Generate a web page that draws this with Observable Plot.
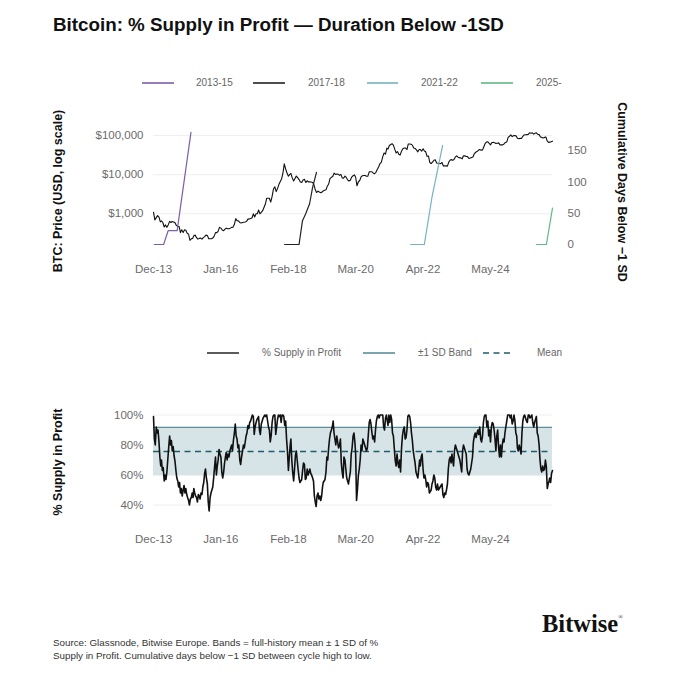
<!DOCTYPE html>
<html>
<head>
<meta charset="utf-8">
<script src="https://cdn.jsdelivr.net/npm/d3@7"></script>
<script src="https://cdn.jsdelivr.net/npm/@observablehq/plot@0.6"></script>
<style>
  body { margin: 0; background: #fff; }
  #root { position: relative; width: 680px; height: 680px; overflow: hidden; background: #fff;
          font-family: "Liberation Sans", Arial, sans-serif; }
  .abs { position: absolute; white-space: nowrap; }
  .chart { position: absolute; left: 0; }
</style>
</head>
<body>
<div id="root"></div>
<script>
// ---------------- DATA ----------------
// BTC price (USD), two readings per month (1st, 16th) from Dec 2013
const priceUSD = [
  1100, 700,   800, 900,   820, 620,   660, 600,   460, 520,   450, 520,
  640, 600,    635, 620,   590, 500,   480, 470,   330, 390,   330, 390,   380, 320,
  300, 210,    230, 235,   275, 285,   245, 225,   235, 240,   225, 245,
  260, 285,    280, 230,   230, 230,   240, 265,   330, 330,   360, 450,
  430, 385,    370, 405,   430, 415,   415, 430,   450, 455,   540, 750,
  670, 660,    600, 580,   600, 610,   615, 640,   730, 740,   760, 780,
  1000, 830,   1000, 1010, 1250, 1000, 1090, 1200, 1450, 1750, 2500, 2500,
  2500, 2000,  2800, 4300, 4900, 3700, 4400, 5600, 6700, 7800, 10900, 19000,
  14000, 11000, 9100, 10200, 10800, 8300, 6900, 8000, 9200, 8400, 7500, 6500,
  6300, 7300,  7600, 6300, 7000, 6500, 6600, 6500, 6350, 5600, 4100, 3500,
  3800, 3600,  3450, 3600, 3850, 4000, 4100, 5100, 5700, 7900, 8600, 9000,
  11000, 10200, 10400, 10300, 9600, 10200, 8300, 8100, 9200, 8500, 7400, 6900,
  7200, 8700,  9400, 9900, 8600, 5200, 6600, 7100, 8800, 9400, 9500, 9500,
  9100, 9100,  11800, 11900, 11900, 10900, 10600, 11500, 13800, 16000, 19300, 21000,
  29000, 36000, 33500, 48000, 45000, 56000, 59000, 62000, 57000, 45000, 36000, 39000,
  33500, 31800, 40000, 46000, 48000, 48000, 44000, 61000, 61000, 60000, 57000, 48000,
  47000, 43000, 38500, 44000, 44000, 40000, 46000, 40500, 38500, 29500, 30000, 20500,
  19300, 21000, 23300, 24000, 20000, 19700, 19400, 19200, 20500, 16700, 17000, 16800,
  16600, 21000, 23700, 24300, 23300, 24400, 28500, 30300, 28000, 27000, 27000, 25500,
  30600, 30300, 29200, 29000, 25900, 26600, 27600, 28500, 34800, 37500, 39000, 42000,
  44000, 42500, 43000, 52000, 62000, 68000, 69700, 63000, 58000, 66000, 67700, 66000,
  62700, 64000, 65000, 58000, 58000, 58000, 61000, 67000, 69000, 90000, 96000, 104000,
  94000, 100000, 100000, 97000, 86000, 83000, 85000, 84000, 96000, 104000, 105000, 106000,
  107000, 118000, 115000, 118000, 109000, 115000, 118000, 108000, 106000, 92000, 90000, 87000,
  90000, 92000, 72000, 67000, 68000, 70000,
  72000
];

// % Supply in Profit, three readings per month (1st, 11th, 21st) from Dec 2013
const supplyPct = [
  99, 84, 80,
  92, 88, 90,  82, 72, 66,  70, 63, 65,  56, 60, 57,  62, 70, 78,  86, 80, 83,
  76, 79, 73,  69, 63, 58,  56, 52, 55,  48, 51, 46,  50, 53, 48,  51, 47, 45,
  43, 40, 44,  45, 48, 45,  51, 48, 46,  45, 42, 47,  46, 44, 48,  47, 52, 55,
  61, 64, 58,  54, 42, 36,  45, 48, 50,  52, 58, 65,  72, 60, 66,  70, 77, 74,
  72, 62, 58,  62, 68, 72,  75, 70, 74,  72, 76, 78,  80, 76, 83,  88, 94, 86,
  84, 78, 80,  70, 67, 72,  76, 80, 78,  82, 86, 88,  93, 91, 95,  96, 98, 100,
  99, 87, 92,  95, 97, 98,  99, 90, 87,  94, 96, 98,  99, 100, 99, 100, 96, 92,
  90, 82, 86,  95, 99, 100, 100, 87, 92, 97, 100, 99, 100, 95, 100, 100, 99, 93,
  96, 84, 76,  63, 72, 80,  84, 70, 62,  56, 64, 73,  76, 70, 64,  58, 55, 56,
  57, 63, 68,  67, 57, 58,  64, 60, 62,  64, 61, 60,  58, 56, 46,  42, 39, 46,
  48, 44, 46,  43, 46, 52,  55, 56, 57,  62, 72, 70,  78, 84, 88,  90, 92, 96,
  88, 84, 80,  86, 82, 78,  80, 84, 68,  62, 58, 72,  70, 64, 58,  56, 54, 58,
  62, 74, 78,  86, 88, 82,  74, 43, 50,  60, 64, 70,  80, 76, 84,  82, 80, 78,
  76, 78, 86,  95, 97, 94,  88, 84, 86,  82, 90, 96,  99, 100, 98, 100, 100, 100,
  100, 92, 90, 98, 100, 96, 93, 100, 95, 100, 97, 88, 86, 78, 70,  66, 74, 68,
  65, 70, 62,  78, 86, 90,  92, 84, 85,  90, 99, 100, 99, 95, 88,  83, 76, 72,
  68, 62, 60,  58, 64, 70,  66, 72, 74,  64, 58, 60,  57, 52, 55,  54, 48, 49,
  50, 54, 56,  60, 58, 52,  50, 54, 50,  51, 52, 53,  54, 47, 45,  48, 47, 50,
  54, 64, 70,  72, 68, 74,  70, 66, 76,  80, 78, 76,  74, 72, 70,  66, 62, 76,
  80, 78, 76,  74, 64, 61,  60, 62, 64,  68, 72, 82,  86, 88, 85,  88, 90, 87,
  92, 84, 82,  86, 95, 99,  100, 100, 92, 96, 86, 90, 82, 92, 95,  94, 90, 84,
  76, 86, 90,  78, 72, 80,  72, 80, 84,  82, 88, 92,  96, 100, 100, 100, 98, 100,
  94, 96, 100, 96, 88, 86,  78, 76, 80,  77, 74, 88,  96, 99, 100, 98, 96, 95,
  100, 100, 98, 99, 100, 95, 92, 95, 97, 99, 88, 86,  80, 70, 64,  62, 66, 63,
  64, 70, 66,  51, 54, 56,  58, 55, 61,
  63
];

// Band statistics (full-history mean and ±1 SD)
const bandMean = 75.6;
const bandLower = 59.5;
const bandUpper = 91.7;

// Cumulative days below −1 SD, by cycle
const cycleLabels = ["2013-15", "2017-18", "2021-22", "2025-"];
const cycle2013Dates = ["2013-12-10", "2014-03-25", "2014-05-15", "2014-08-25", "2015-01-28"];
const cycle2013Days  = [0, 0, 22, 22, 179];
const cycle2017Dates = ["2017-12-20", "2018-06-01", "2018-07-10", "2018-08-15", "2018-09-28", "2018-11-01", "2018-12-15"];
const cycle2017Days  = [0, 0, 38, 49, 65, 91, 115];
const cycle2021Dates = ["2021-11-12", "2022-04-15", "2022-07-10", "2022-11-08"];
const cycle2021Days  = [0, 0, 75, 158];
const cycle2025Dates = ["2025-10-01", "2026-01-22", "2026-04-01"];
const cycle2025Days  = [0, 0, 58];

// Axis ticks
const xTickDates = ["2013-12-01", "2016-01-01", "2018-02-01", "2020-03-01", "2022-04-01", "2024-05-01"];
const priceTicks = [1000, 10000, 100000];
const daysTicks = [0, 50, 100, 150];
const pctTicks = [40, 60, 80, 100];

// ---------------- STYLE ----------------
const cycleColors = ["#7a5fa8", "#222222", "#74b3bf", "#5dba86"];
const FONT = '"Liberation Sans", Arial, sans-serif';
const TICK_COLOR = "#6b6b6b";

// ---------------- BUILD ----------------
const priceData = priceUSD.map((v, i) => ({
  date: new Date(Date.UTC(2013, 11 + Math.floor(i / 2), i % 2 ? 16 : 1)), price: v }));
const supplyData = supplyPct.map((v, i) => ({
  date: new Date(Date.UTC(2013, 11 + Math.floor(i / 3), [1, 11, 21][i % 3])), pct: v }));
const toDate = s => new Date(s + "T00:00:00Z");
const cycles = [
  [cycle2013Dates, cycle2013Days], [cycle2017Dates, cycle2017Days],
  [cycle2021Dates, cycle2021Days], [cycle2025Dates, cycle2025Days]
].map(([ds, vs], k) => ({
  color: cycleColors[k],
  data: ds.map((d, i) => ({ date: toDate(d), days: vs[i] }))
}));
const xDomain = [toDate("2013-12-01"), toDate("2026-04-01")];
const xTicks = xTickDates.map(toDate);
const fmtX = d3.utcFormat("%b-%y");

const root = document.getElementById("root");
const common = { width: 680, marginLeft: 153, marginRight: 128 };
const baseStyle = { fontFamily: FONT, fontSize: "11.5px", color: TICK_COLOR, background: "transparent", overflow: "visible" };

const topPrice = Plot.plot({
  ...common, height: 180, marginTop: 28, marginBottom: 32,
  style: baseStyle,
  x: { type: "utc", domain: xDomain },
  y: { type: "log", domain: [129.6, 151900] },
  marks: [
    Plot.ruleY(priceTicks, { stroke: "#eeeeee" }),
    Plot.axisY(priceTicks, { tickSize: 0, tickPadding: 10, label: null, tickFormat: d => "$" + d3.format(",")(d) }),
    Plot.axisX(xTicks, { tickSize: 0, tickPadding: 16, label: null, tickFormat: fmtX }),
    Plot.lineY(priceData, { x: "date", y: "price", stroke: "#111", strokeWidth: 1.1 })
  ]
});

const topDays = Plot.plot({
  ...common, height: 180, marginTop: 28, marginBottom: 32,
  style: baseStyle,
  x: { type: "utc", domain: xDomain, axis: null },
  y: { domain: [-6.4, 185.1] },
  marks: [
    Plot.axisY(daysTicks, { anchor: "right", tickSize: 0, tickPadding: 15, label: null }),
    ...cycles.map(c => Plot.line(c.data, { x: "date", y: "days", stroke: c.color, strokeWidth: 1.2 }))
  ]
});

const bottom = Plot.plot({
  ...common, height: 170, marginTop: 30, marginBottom: 35,
  style: baseStyle,
  x: { type: "utc", domain: xDomain },
  y: { domain: [33, 103] },
  marks: [
    Plot.ruleY(pctTicks, { stroke: "#eeeeee" }),
    Plot.rect([{ x1: xDomain[0], x2: xDomain[1], y1: bandLower, y2: bandUpper }],
      { x1: "x1", x2: "x2", y1: "y1", y2: "y2", fill: "#d6e4e7" }),
    Plot.ruleY([bandUpper], { stroke: "#5b8e98", strokeWidth: 1.3 }),
    Plot.ruleY([bandMean], { stroke: "#1f5c6a", strokeWidth: 1.5, strokeDasharray: "6,4.5" }),
    Plot.lineY(supplyData, { x: "date", y: "pct", stroke: "#111", strokeWidth: 1.6 }),
    Plot.axisY(pctTicks, { tickSize: 0, tickPadding: 10, label: null, tickFormat: d => d + "%" }),
    Plot.axisX(xTicks, { tickSize: 0, tickPadding: 19, label: null, tickFormat: fmtX })
  ]
});

[[topPrice, 100], [topDays, 100], [bottom, 380]].forEach(([svg, top]) => {
  svg.classList.add("chart");
  svg.style.top = top + "px";
  root.appendChild(svg);
});

// ---------------- TEXT & LEGENDS ----------------
function text(str, x, cy, css, anchor) {
  const d = document.createElement("div");
  d.className = "abs";
  d.textContent = str;
  d.style.left = x + "px";
  d.style.top = cy + "px";
  d.style.lineHeight = "1";
  d.style.transform = anchor || "translateY(-50%)";
  Object.assign(d.style, css);
  root.appendChild(d);
  return d;
}
function swatch(x1, x2, y, color, dash, w) {
  const ns = "http://www.w3.org/2000/svg";
  const s = document.createElementNS(ns, "svg");
  s.setAttribute("width", x2 - x1);
  s.setAttribute("height", 8);
  s.style.position = "absolute";
  s.style.left = x1 + "px";
  s.style.top = (y - 4) + "px";
  const l = document.createElementNS(ns, "line");
  l.setAttribute("x1", 0); l.setAttribute("x2", x2 - x1);
  l.setAttribute("y1", 4); l.setAttribute("y2", 4);
  l.setAttribute("stroke", color);
  l.setAttribute("stroke-width", w || 1.6);
  if (dash) l.setAttribute("stroke-dasharray", dash);
  s.appendChild(l);
  root.appendChild(s);
}

// Title
text("Bitcoin: % Supply in Profit \u2014 Duration Below -1SD", 53, 16,
  { fontSize: "18.8px", fontWeight: "700", color: "#111", lineHeight: "18.8px" }, "none");

// Top legend
const legendCss = { fontSize: "10px", color: "#666" };
const topLegend = [[142, 174, 196], [253, 285, 308], [367, 398, 421], [481, 513, 536]];
topLegend.forEach(([a, b, t], k) => {
  swatch(a, b, 82.7, cycleColors[k]);
  text(cycleLabels[k], t, 82.7, legendCss);
});

// Bottom legend
swatch(207, 239, 352.7, "#333");
text("% Supply in Profit", 262, 352.7, legendCss);
swatch(363, 395, 352.7, "#5b8e98");
text("\u00b11 SD Band", 418, 352.7, legendCss);
swatch(483, 514, 352.7, "#1f5c6a", "6,4.5");
text("Mean", 537, 352.7, legendCss);

// Axis titles
const axisTitleCss = { fontSize: "12.5px", fontWeight: "700", color: "#111" };
text("BTC: Price (USD, log scale)", 58, 191, axisTitleCss, "translate(-50%,-50%) rotate(-90deg)");
text("Cumulative Days Below \u22121 SD", 622, 192, axisTitleCss, "translate(-50%,-50%) rotate(90deg)");
text("% Supply in Profit", 58, 461.5, axisTitleCss, "translate(-50%,-50%) rotate(-90deg)");

// Footer
const footCss = { fontSize: "9.8px", color: "#333" };
text("Source: Glassnode, Bitwise Europe. Bands = full-history mean \u00b1 1 SD of %", 53, 643, footCss);
text("Supply in Profit. Cumulative days below \u22121 SD between cycle high to low.", 53, 656, footCss);

// Logo
const logo = text("Bitwise", 542, 624, { fontFamily: '"Liberation Serif", "DejaVu Serif", serif', fontSize: "24.5px", fontWeight: "700", color: "#111" });
const reg = document.createElement("span");
reg.textContent = "\u00ae";
reg.style.fontSize = "6px";
reg.style.verticalAlign = "13px";
reg.style.fontWeight = "400";
logo.appendChild(reg);
</script>
</body>
</html>
